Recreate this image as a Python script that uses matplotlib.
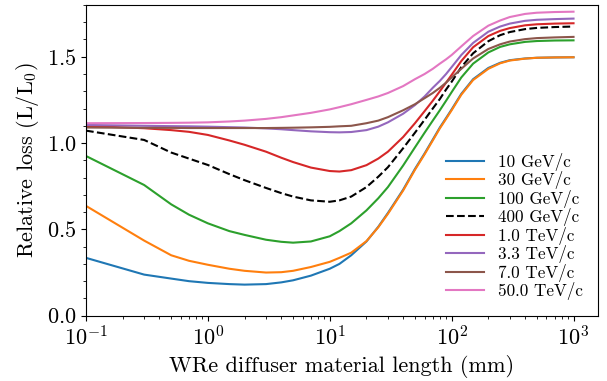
import matplotlib
matplotlib.use("Agg")
import matplotlib.pyplot as plt
from matplotlib.ticker import MultipleLocator

plt.rcParams['font.family'] = 'serif'
plt.rcParams['font.serif'] = ['cmr10']
plt.rcParams['mathtext.fontset'] = 'cm'
plt.rcParams['axes.formatter.use_mathtext'] = True
plt.rcParams['axes.unicode_minus'] = True

x = [0.1, 0.3, 0.5, 0.7, 1, 1.5, 2, 3, 4, 5, 7, 10, 12, 15, 20, 25, 30, 40, 50,
     60, 70, 80, 90, 100, 120, 150, 200, 250, 300, 400, 500, 700, 1000]

p10 = [0.335, 0.238, 0.215, 0.2, 0.19, 0.183, 0.18, 0.183, 0.193, 0.205, 0.232, 0.272,
       0.3, 0.35, 0.43, 0.515, 0.595, 0.73, 0.85, 0.94, 1.02, 1.09, 1.145, 1.195,
       1.285, 1.37, 1.435, 1.465, 1.48, 1.49, 1.494, 1.496, 1.497]
p30 = [0.636, 0.435, 0.35, 0.318, 0.295, 0.272, 0.26, 0.25, 0.252, 0.26, 0.282, 0.312,
       0.335, 0.365, 0.432, 0.512, 0.59, 0.725, 0.845, 0.935, 1.015, 1.085, 1.14, 1.19,
       1.28, 1.365, 1.43, 1.462, 1.478, 1.489, 1.494, 1.496, 1.497]
p100 = [0.925, 0.757, 0.645, 0.585, 0.535, 0.49, 0.468, 0.44, 0.428, 0.423, 0.43, 0.46,
        0.49, 0.535, 0.61, 0.68, 0.745, 0.87, 0.975, 1.06, 1.13, 1.19, 1.245, 1.295,
        1.38, 1.46, 1.525, 1.557, 1.572, 1.586, 1.591, 1.594, 1.595]
p400 = [1.072, 1.018, 0.945, 0.91, 0.873, 0.82, 0.785, 0.74, 0.71, 0.69, 0.668, 0.66,
        0.668, 0.69, 0.745, 0.805, 0.86, 0.97, 1.06, 1.135, 1.2, 1.255, 1.31, 1.355,
        1.44, 1.52, 1.59, 1.625, 1.643, 1.66, 1.667, 1.672, 1.675]
p1000 = [1.099, 1.086, 1.075, 1.065, 1.047, 1.015, 0.99, 0.95, 0.915, 0.89, 0.858, 0.838,
         0.835, 0.843, 0.872, 0.91, 0.95, 1.035, 1.115, 1.185, 1.245, 1.3, 1.35, 1.395,
         1.475, 1.555, 1.62, 1.65, 1.666, 1.682, 1.688, 1.692, 1.694]
p3300 = [1.105, 1.1, 1.098, 1.097, 1.095, 1.092, 1.09, 1.085, 1.08, 1.075, 1.068, 1.063,
         1.062, 1.064, 1.075, 1.095, 1.12, 1.17, 1.22, 1.27, 1.32, 1.36, 1.4, 1.44,
         1.51, 1.58, 1.645, 1.675, 1.692, 1.708, 1.714, 1.718, 1.721]
p7000 = [1.09, 1.088, 1.088, 1.087, 1.087, 1.087, 1.087, 1.087, 1.088, 1.089, 1.091, 1.094,
         1.097, 1.1, 1.115, 1.13, 1.15, 1.19, 1.225, 1.26, 1.29, 1.32, 1.35, 1.38,
         1.43, 1.49, 1.545, 1.572, 1.588, 1.602, 1.608, 1.612, 1.615]
p50000 = [1.115, 1.116, 1.117, 1.118, 1.12, 1.125, 1.13, 1.14, 1.15, 1.16, 1.175, 1.195,
          1.208, 1.225, 1.25, 1.27, 1.29, 1.33, 1.37, 1.4, 1.43, 1.46, 1.485, 1.51,
          1.56, 1.62, 1.68, 1.71, 1.73, 1.748, 1.755, 1.759, 1.761]

labels = ['10 GeV/c', '30 GeV/c', '100 GeV/c', '400 GeV/c',
          '1.0 TeV/c', '3.3 TeV/c', '7.0 TeV/c', '50.0 TeV/c']
series = [p10, p30, p100, p400, p1000, p3300, p7000, p50000]
colors = ['#1f77b4', '#ff7f0e', '#2ca02c', 'black', '#d62728', '#9467bd', '#8c564b', '#e377c2']
styles = ['-', '-', '-', '--', '-', '-', '-', '-']

fig = plt.figure(figsize=(6.07, 3.81), dpi=100)
ax = fig.add_axes([0.1417, 0.1714, 0.8433, 0.8156])

for y, lab, c, ls in zip(series, labels, colors, styles):
    ax.plot(x, y, color=c, ls=ls, lw=1.5, label=lab)

ax.set_xscale('log')
ax.set_xlim(0.1, 10**3.2)
ax.set_ylim(0, 1.8)
ax.yaxis.set_major_locator(MultipleLocator(0.5))
ax.yaxis.set_minor_locator(MultipleLocator(0.1))
ax.tick_params(labelsize=16)
ax.set_xlabel('WRe diffuser material length (mm)', fontsize=16)
ax.set_ylabel(r'Relative loss $(\mathrm{L}/\mathrm{L}_0)$', fontsize=16)
ax.legend(loc='lower right', frameon=False, fontsize=12.3, labelspacing=0.03,
          handlelength=2.2, handletextpad=0.8, bbox_to_anchor=(1.0, 0.0))

fig.savefig('out.png', dpi=100)
